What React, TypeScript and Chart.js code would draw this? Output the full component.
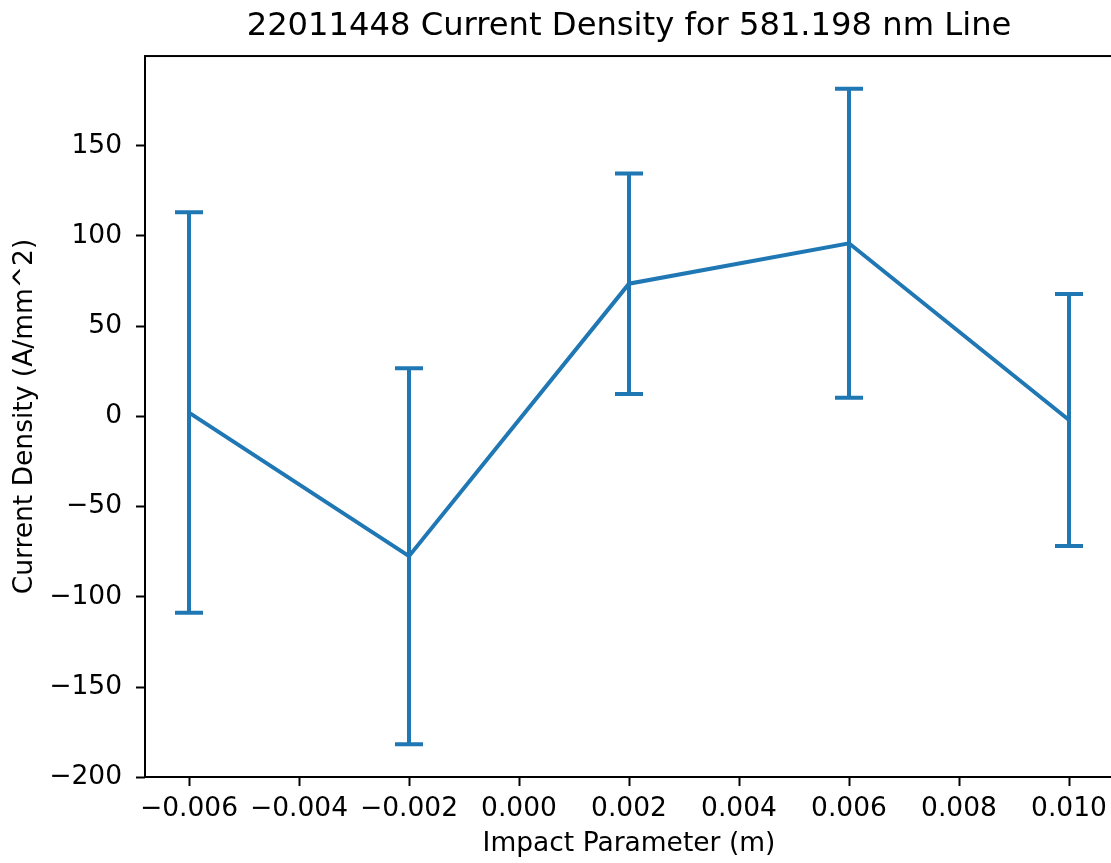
import React, { useEffect, useRef } from "react";
import { Chart, registerables } from "chart.js";

Chart.register(...registerables);

// ---- data ----
const xValues = [-0.006, -0.002, 0.002, 0.006, 0.01];
const yValues = [2.1, -77.5, 73.5, 95.9, -2.0];
const yErrors = [111.0, 104.2, 61.1, 85.6, 69.8];
const xTicks = [-0.006, -0.004, -0.002, 0, 0.002, 0.004, 0.006, 0.008, 0.01];
const yTicks = [-200, -150, -100, -50, 0, 50, 100, 150];

const TITLE = "22011448 Current Density for 581.198 nm Line";
const X_LABEL = "Impact Parameter (m)";
const Y_LABEL = "Current Density (A/mm^2)";

const COLOR = "#1f77b4";
const FONT = "'DejaVu Sans', sans-serif";
const CAP = 14;

function margins(lo: number, hi: number) {
  const m = (hi - lo) * 0.05;
  return [lo - m, hi + m];
}

const [xMin, xMax] = margins(Math.min(...xValues), Math.max(...xValues));
const [yMin, yMax] = margins(
  Math.min(...yValues.map((v, i) => v - yErrors[i])),
  Math.max(...yValues.map((v, i) => v + yErrors[i]))
);

const minus = (s: string) => s.replace("-", "\u2212");

const errorBarPlugin = {
  id: "errorBars",
  afterDatasetsDraw(chart: any) {
    const { ctx, scales } = chart;
    const x = scales.x;
    const y = scales.y;
    ctx.save();
    ctx.strokeStyle = COLOR;
    ctx.lineWidth = 4;
    ctx.lineCap = "butt";
    xValues.forEach((xv, i) => {
      const px = x.getPixelForValue(xv);
      const top = y.getPixelForValue(yValues[i] + yErrors[i]);
      const bot = y.getPixelForValue(yValues[i] - yErrors[i]);
      ctx.beginPath();
      ctx.moveTo(px, top);
      ctx.lineTo(px, bot);
      ctx.moveTo(px - CAP, top);
      ctx.lineTo(px + CAP, top);
      ctx.moveTo(px - CAP, bot);
      ctx.lineTo(px + CAP, bot);
      ctx.stroke();
    });
    ctx.restore();
  },
};

const framePlugin = {
  id: "frame",
  afterDraw(chart: any) {
    const { ctx, chartArea } = chart;
    ctx.save();
    ctx.strokeStyle = "#000";
    ctx.lineWidth = 2;
    ctx.strokeRect(
      chartArea.left,
      chartArea.top,
      chartArea.right - chartArea.left,
      chartArea.bottom - chartArea.top
    );
    ctx.restore();
  },
};

export default function App() {
  const ref = useRef<HTMLCanvasElement | null>(null);

  useEffect(() => {
    document.body.style.margin = "0";
    const canvas = ref.current;
    if (!canvas) return;
    const chart = new Chart(canvas, {
      type: "line",
      data: {
        datasets: [
          {
            data: xValues.map((x, i) => ({ x, y: yValues[i] })),
            borderColor: COLOR,
            backgroundColor: COLOR,
            borderWidth: 4,
            pointRadius: 0,
            fill: false,
            tension: 0,
          },
        ],
      },
      options: {
        animation: false,
        responsive: false,
        devicePixelRatio: 1,
        layout: { padding: { left: 0, top: 0, bottom: 0, right: 1 } },
        plugins: {
          legend: { display: false },
          tooltip: { enabled: false },
          title: {
            display: true,
            text: TITLE,
            fullSize: false,
            color: "#000",
            font: { family: FONT, size: 32.2, weight: "normal", lineHeight: 1.2 },
            padding: { top: 7.1, bottom: 10.3 },
          },
        },
        scales: {
          x: {
            type: "linear",
            min: xMin,
            max: xMax,
            afterBuildTicks: (s: any) => {
              s.ticks = xTicks.map((v) => ({ value: v }));
            },
            afterFit: (s: any) => {
              s.height = 86;
            },
            grid: {
              drawOnChartArea: false,
              drawTicks: true,
              tickLength: 9,
              tickWidth: 2,
              tickColor: "#000",
            },
            border: { display: false },
            ticks: {
              autoSkip: false,
              maxRotation: 0,
              minRotation: 0,
              padding: 7,
              color: "#000",
              font: { family: FONT, size: 26.5 },
              callback: (v: any) => minus(Number(v).toFixed(3)),
            },
            title: {
              display: true,
              text: X_LABEL,
              color: "#000",
              font: { family: FONT, size: 26.5 },
              padding: { top: 0, bottom: 3 },
            },
          },
          y: {
            type: "linear",
            min: yMin,
            max: yMax,
            afterBuildTicks: (s: any) => {
              s.ticks = yTicks.map((v) => ({ value: v }));
            },
            afterFit: (s: any) => {
              s.width = 145;
            },
            grid: {
              drawOnChartArea: false,
              drawTicks: true,
              tickLength: 9,
              tickWidth: 2,
              tickColor: "#000",
            },
            border: { display: false },
            ticks: {
              autoSkip: false,
              padding: 14,
              color: "#000",
              font: { family: FONT, size: 26.5 },
              callback: (v: any) => minus(String(Math.round(Number(v)))),
            },
            title: {
              display: true,
              text: Y_LABEL,
              color: "#000",
              font: { family: FONT, size: 26.5 },
              padding: { top: 9, bottom: 0 },
            },
          },
        },
      },
      plugins: [errorBarPlugin, framePlugin],
    } as any);
    return () => chart.destroy();
  }, []);

  return (
    <div
      style={{
        position: "fixed",
        left: 0,
        top: 0,
        width: 1111,
        height: 863,
        overflow: "hidden",
        background: "#fff",
      }}
    >
      <canvas ref={ref} width={1114} height={863} style={{ display: "block" }} />
    </div>
  );
}
